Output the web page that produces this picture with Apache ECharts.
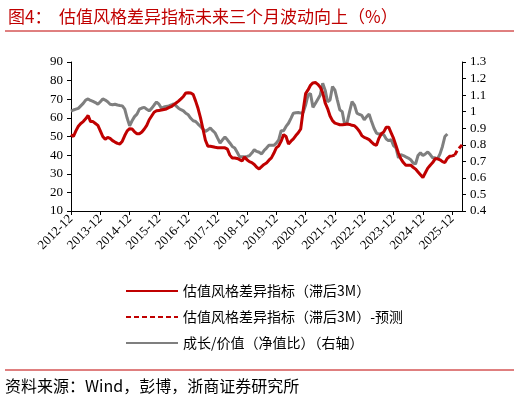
<!DOCTYPE html>
<html>
<head>
<meta charset="utf-8">
<script src="https://cdn.jsdelivr.net/npm/echarts@6/dist/echarts.min.js"></script>
<style>
  html, body {margin: 0; padding: 0; background: #fff;}
  #chart {width: 520px; height: 402px;}
</style>
</head>
<body>
<div id="chart"></div>
<script>
// monthly, 2012-12 .. 2026-04
const startYear = 2012, startMonth = 12, monthCount = 161;
const months = [];
for (let i = 0; i < monthCount; i++) {
  const m = startMonth - 1 + i;
  const y = startYear + Math.floor(m / 12);
  const mm = (m % 12) + 1;
  months.push(y + '-' + (mm < 10 ? '0' + mm : mm));
}

// 估值风格差异指标（滞后3M）, left axis
const styleGap = [
  51, 50, 53, 55.5, 57, 58, 59.5, 61.3, 58, 58, 57, 56, 53, 50, 48.5, 49.5, 49, 47.8, 47, 46.3,
  46, 47.5, 50.5, 53, 54.2, 54, 52.5, 51.5, 51.5, 52.4, 54, 56, 59, 61, 63, 63.8, 64, 64.2, 64.5, 64.8,
  65.5, 66, 67, 68, 69, 70.2, 71.5, 73.4, 73.5, 73.4, 72.5, 69, 65, 60, 54, 48, 44.8, 44.8, 44.5, 44.2,
  44, 43.9, 43.9, 43.9, 43.2, 40, 38.5, 38.5, 38.2, 37.6, 36.8, 39, 37.5, 36.5, 36, 35, 33.5, 32.6, 33.8, 35,
  35.8, 37.3, 38.5, 41, 43.9, 45, 47.5, 51, 50, 46, 47.5, 48.7, 50.5, 52, 54, 64, 73, 75, 77.5, 78.8,
  79, 78, 76.5, 73.5, 68, 65, 61, 58.5, 57.2, 56.8, 56.3, 56.3, 56.5, 56.7, 56.5, 56, 55.8, 54.5, 52.8, 50.5,
  49.5, 49, 48.3, 47, 45.8, 45.3, 49, 51.5, 52.5, 55, 55, 52, 49, 45, 41, 38, 36, 34.6, 34.6, 34.6,
  33.5, 32.5, 31, 29.5, 28, 30.5, 33, 34.6, 36, 38, 38, 37.5, 36.5, 36, 38.3, 39.4, 39.6, 40
];

// 预测 (idx 157..160)
const forecastStart = 157;
const styleGapForecast = [40, 42.4, 44, 45.5];

// 成长/价值（净值比）, right axis
const growthValue = [
  1.003, 1.01, 1.015, 1.02, 1.035, 1.05, 1.07, 1.077, 1.068, 1.062, 1.055, 1.045, 1.06, 1.077, 1.07, 1.06, 1.045, 1.042, 1.045, 1.04,
  1.037, 1.035, 1.015, 0.96, 0.915, 0.945, 0.97, 0.985, 1.015, 1.022, 1.026, 1.015, 1.005, 1.02, 1.04, 1.058, 1.045, 1.021, 1.028, 1.032,
  1.035, 1.04, 1.047, 1.035, 1.021, 1.012, 1.005, 0.99, 0.981, 0.96, 0.945, 0.941, 0.925, 0.911, 0.895, 0.881, 0.89, 0.901, 0.885, 0.871,
  0.84, 0.811, 0.83, 0.847, 0.83, 0.811, 0.79, 0.781, 0.755, 0.727, 0.727, 0.727, 0.73, 0.734, 0.75, 0.77, 0.76, 0.755, 0.745, 0.765,
  0.78, 0.797, 0.797, 0.797, 0.81, 0.83, 0.885, 0.885, 0.911, 0.93, 0.96, 0.991, 0.994, 0.995, 0.991, 0.995, 1.04, 1.1, 1.11, 1.026,
  1.05, 1.075, 1.1, 1.172, 1.13, 1.06, 1.07, 1.152, 1.13, 1.07, 1.011, 1.0, 0.921, 0.935, 1.0, 1.06, 1.04, 0.991, 0.983, 0.977,
  0.951, 0.97, 0.985, 0.94, 0.9, 0.871, 0.865, 0.865, 0.86, 0.835, 0.825, 0.831, 0.795, 0.781, 0.721, 0.741, 0.735, 0.727, 0.72, 0.71,
  0.69, 0.684, 0.735, 0.751, 0.735, 0.745, 0.757, 0.741, 0.721, 0.721, 0.715, 0.745, 0.79, 0.85, 0.865
];

const RED = '#C00000';
const GRAY = '#7F7F7F';
const SERIF = '"Liberation Serif", "Noto Sans CJK SC", serif';
const CJK = '"Noto Sans CJK SC", "Liberation Serif", sans-serif';

const forecastData = months.map((_, i) =>
  i >= forecastStart && i < forecastStart + styleGapForecast.length ? styleGapForecast[i - forecastStart] : null);

const chart = echarts.init(document.getElementById('chart'));

const option = {
  animation: false,
  title: {
    text: '图4：  估值风格差异指标未来三个月波动向上（%）',
    left: 3,
    top: 3,
    textStyle: {color: RED, fontFamily: CJK, fontSize: 17, fontWeight: 'normal'}
  },
  graphic: [
    {type: 'line', shape: {x1: 5, y1: 31, x2: 514, y2: 31}, style: {stroke: RED, lineWidth: 1}},
    {type: 'line', shape: {x1: 5, y1: 370, x2: 514, y2: 370}, style: {stroke: RED, lineWidth: 1}},
    {
      type: 'text', left: 5, top: 378,
      style: {text: '资料来源：Wind，彭博，浙商证券研究所', fill: '#000', font: '16px ' + CJK}
    }
  ],
  legend: {
    orient: 'vertical',
    left: 120,
    top: 279,
    itemWidth: 52,
    itemHeight: 12,
    itemGap: 12,
    itemStyle: {opacity: 0},
    textStyle: {color: '#000', fontFamily: CJK, fontSize: 14},
    data: ['估值风格差异指标（滞后3M）', '估值风格差异指标（滞后3M）-预测', '成长/价值（净值比）（右轴）']
  },
  grid: {left: 71, right: 58, top: 62, bottom: 191},
  xAxis: {
    type: 'category',
    data: months,
    boundaryGap: false,
    axisLine: {lineStyle: {color: '#000', width: 1}},
    axisTick: {interval: 11, length: 4, inside: false, lineStyle: {color: '#000'}},
    axisLabel: {
      interval: 11, rotate: 45, color: '#000', fontFamily: SERIF, fontSize: 13, margin: 6
    },
    splitLine: {show: false}
  },
  yAxis: [
    {
      type: 'value', min: 10, max: 90, interval: 10, position: 'left',
      axisLine: {show: true, lineStyle: {color: '#000'}},
      axisTick: {show: true, length: 4, lineStyle: {color: '#000'}},
      axisLabel: {color: '#000', fontFamily: SERIF, fontSize: 13, margin: 8},
      splitLine: {show: false}
    },
    {
      type: 'value', min: 0.4, max: 1.3, interval: 0.1, position: 'right',
      axisLine: {show: true, lineStyle: {color: '#000'}},
      axisTick: {show: true, length: 4, lineStyle: {color: '#000'}},
      axisLabel: {
        color: '#000', fontFamily: SERIF, fontSize: 13, margin: 8,
        formatter: v => String(Math.round(v * 10) / 10)
      },
      splitLine: {show: false}
    }
  ],
  series: [
    {
      name: '估值风格差异指标（滞后3M）', type: 'line', yAxisIndex: 0,
      data: styleGap, symbol: 'none', lineStyle: {color: RED, width: 3}, itemStyle: {color: RED}, z: 3
    },
    {
      name: '估值风格差异指标（滞后3M）-预测', type: 'line', yAxisIndex: 0,
      data: forecastData, symbol: 'none', connectNulls: false,
      lineStyle: {color: RED, width: 3, type: [5, 3]}, itemStyle: {color: RED}, z: 3
    },
    {
      name: '成长/价值（净值比）（右轴）', type: 'line', yAxisIndex: 1,
      data: growthValue, symbol: 'none', lineStyle: {color: GRAY, width: 3}, itemStyle: {color: GRAY}, z: 2
    }
  ]
};

chart.setOption(option);
</script>
</body>
</html>
